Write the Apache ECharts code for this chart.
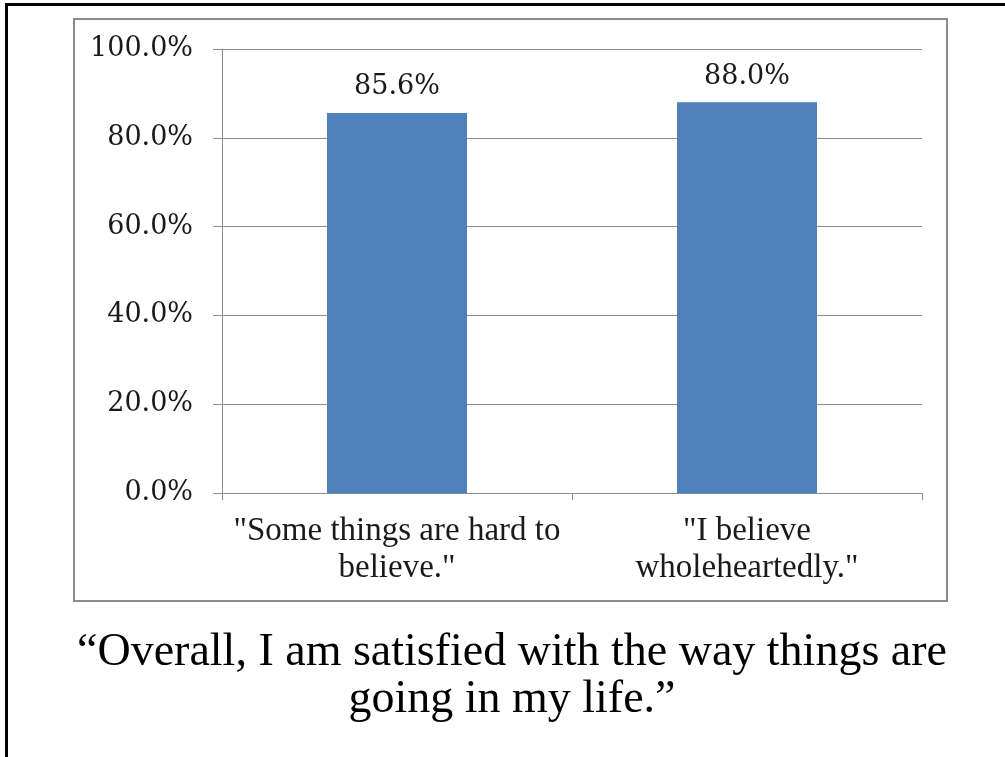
<!DOCTYPE html>
<html>
<head>
<meta charset="utf-8">
<script src="https://cdn.jsdelivr.net/npm/echarts@6/dist/echarts.min.js"></script>
<style>
  html, body { margin: 0; padding: 0; background: #fff; }
  #chart { width: 1005px; height: 757px; }
</style>
</head>
<body>
<div id="chart"></div>
<script>
const categories = ['"Some things are hard to\nbelieve."', '"I believe\nwholeheartedly."'];
const values = [85.6, 88.0];
const yTicks = { min: 0, max: 100, interval: 20 };
const titleLines = ['\u201COverall, I am satisfied with the way things are', 'going in my life.\u201D'];

const chart = echarts.init(document.getElementById('chart'), null, { renderer: 'canvas' });
const numFont = 'DejaVu Serif';
const txtFont = 'Liberation Serif';

chart.setOption({
  animation: false,
  backgroundColor: '#ffffff',
  grid: { left: 222, right: 83, top: 49, bottom: 264, containLabel: false },
  xAxis: {
    type: 'category',
    data: categories,
    axisLine: { show: true, lineStyle: { color: '#8c8c8c', width: 1 } },
    axisTick: { show: true, length: 7, lineStyle: { color: '#8c8c8c' } },
    axisLabel: {
      color: '#1a1a1a', fontFamily: txtFont, fontSize: 33, lineHeight: 37,
      margin: 20, interval: 0
    },
    splitLine: { show: false }
  },
  yAxis: {
    type: 'value',
    min: yTicks.min, max: yTicks.max, interval: yTicks.interval,
    axisLine: { show: true, lineStyle: { color: '#8c8c8c', width: 1 } },
    axisTick: { show: true, length: 9, lineStyle: { color: '#8c8c8c' } },
    axisLabel: {
      color: '#1a1a1a', fontFamily: numFont, fontSize: 27, margin: 29,
      formatter: v => v.toFixed(1) + '%'
    },
    splitLine: { show: true, lineStyle: { color: '#8c8c8c', width: 1 } }
  },
  series: [{
    type: 'bar',
    data: values,
    barWidth: '40%',
    itemStyle: { color: '#4f81bd' },
    label: {
      show: true, position: 'top', distance: 12,
      color: '#1a1a1a', fontFamily: numFont, fontSize: 27,
      formatter: p => p.value.toFixed(1) + '%'
    }
  }],
  graphic: [
    { type: 'rect', shape: { x: 6.5, y: 4.5, width: 1100, height: 900 },
      style: { fill: 'none', stroke: '#000', lineWidth: 3 }, z: 100 },
    { type: 'rect', shape: { x: 74, y: 19, width: 873, height: 582 },
      style: { fill: 'none', stroke: '#8c8c8c', lineWidth: 2 }, z: 100 },
    { type: 'text', x: 512, y: 629,
      style: { text: titleLines.join('\n'), fontFamily: txtFont, fontSize: 46, lineHeight: 47,
               fill: '#000', align: 'center', verticalAlign: 'top' } }
  ]
});
</script>
</body>
</html>
